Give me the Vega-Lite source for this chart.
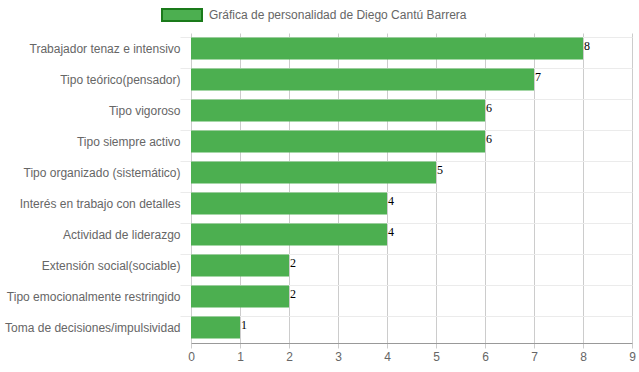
{
  "$schema": "https://vega.github.io/schema/vega-lite/v6.json",
  "autosize": "none",
  "width": 441,
  "height": 310,
  "padding": {"left": 191, "top": 33, "right": 7, "bottom": 29},
  "background": "white",
  "config": {
    "view": {"stroke": null},
    "font": "Liberation Sans"
  },
  "data": {
    "values": [
      {"rasgo": "Trabajador tenaz e intensivo", "valor": 8},
      {"rasgo": "Tipo teórico(pensador)", "valor": 7},
      {"rasgo": "Tipo vigoroso", "valor": 6},
      {"rasgo": "Tipo siempre activo", "valor": 6},
      {"rasgo": "Tipo organizado (sistemático)", "valor": 5},
      {"rasgo": "Interés en trabajo con detalles", "valor": 4},
      {"rasgo": "Actividad de liderazgo", "valor": 4},
      {"rasgo": "Extensión social(sociable)", "valor": 2},
      {"rasgo": "Tipo emocionalmente restringido", "valor": 2},
      {"rasgo": "Toma de decisiones/impulsividad", "valor": 1}
    ]
  },
  "encoding": {
    "y": {
      "field": "rasgo",
      "type": "nominal",
      "sort": null,
      "scale": {"paddingInner": 0.29, "paddingOuter": 0.145},
      "axis": {
        "title": null,
        "bandPosition": 0,
        "grid": true,
        "gridColor": "#ebebeb",
        "tickColor": "#ebebeb",
        "tickSize": 11,
        "domain": false,
        "labelColor": "#666666",
        "labelFontSize": 12,
        "labelPadding": 0,
        "labelFont": "Liberation Sans"
      }
    },
    "x": {
      "field": "valor",
      "type": "quantitative",
      "scale": {"domain": [0, 9], "nice": false},
      "axis": {
        "title": null,
        "values": [0,1,2,3,4,5,6,7,8,9],
        "format": "d",
        "grid": true,
        "gridColor": "#cccccc",
        "tickColor": "#cccccc",
        "tickSize": 5,
        "domainColor": "#999999",
        "labelColor": "#666666",
        "labelFontSize": 12,
        "labelPadding": 3,
        "labelFont": "Liberation Sans",
        "labelFlush": false
      }
    }
  },
  "layer": [
    {
      "mark": {"type": "bar", "stroke": null},
      "encoding": {
        "color": {
          "datum": "Gráfica de personalidad de Diego Cantú Barrera",
          "scale": {"range": ["#4caf50"]},
          "legend": {
            "title": null,
            "orient": "none",
            "legendX": -38,
            "legendY": -47,
            "symbolType": "M-1,-0.3H1V0.3H-1Z",
            "symbolSize": 1600,
            "symbolStrokeColor": "#1a7a1a",
            "symbolStrokeWidth": 2,
            "symbolFillColor": "#4caf50",
            "labelColor": "#666666",
            "labelFontSize": 12,
            "labelFont": "Liberation Sans",
            "labelOffset": 6,
            "labelLimit": 0,
            "padding": 8
          }
        }
      }
    },
    {
      "mark": {
        "type": "text",
        "align": "left",
        "baseline": "middle",
        "dx": 1,
        "dy": -3,
        "font": "Liberation Serif",
        "fontSize": 12,
        "color": "#000000"
      },
      "encoding": {"text": {"field": "valor", "type": "quantitative"}}
    }
  ]
}
